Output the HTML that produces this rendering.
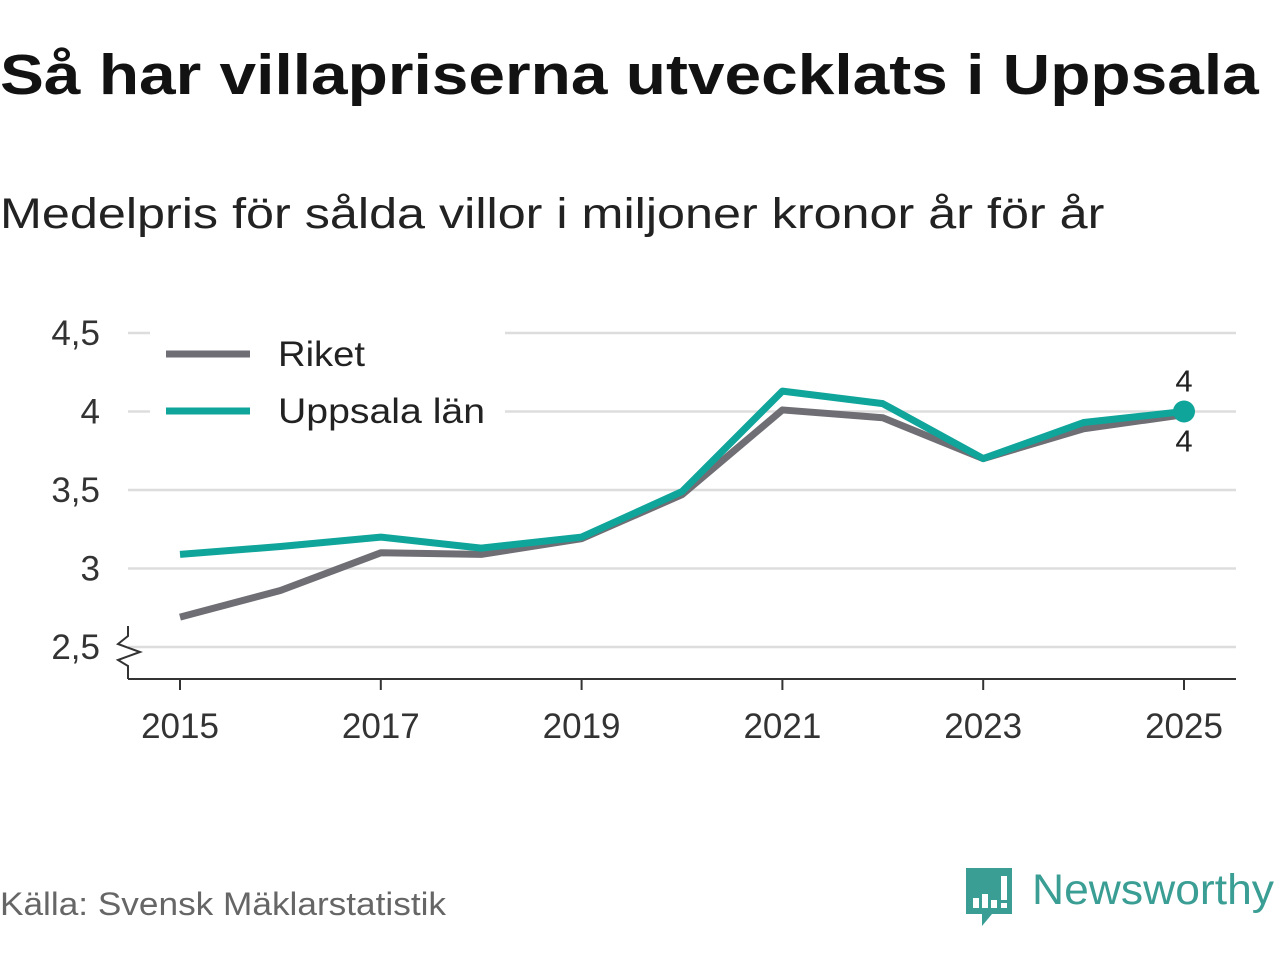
<!DOCTYPE html>
<html><head><meta charset="utf-8"><style>
body{margin:0;width:1280px;height:960px;background:#fff;font-family:"Liberation Sans",sans-serif;overflow:hidden;position:relative}
#title{position:absolute;left:0;top:42px;font-size:57px;font-weight:bold;color:#121212;white-space:nowrap;transform-origin:0 0;transform:scaleX(1.155)}
#sub{position:absolute;left:0;top:190px;font-size:43px;color:#222;white-space:nowrap;transform-origin:0 0;transform:scaleX(1.17)}
#src{position:absolute;left:0;top:886px;font-size:32px;color:#666;transform-origin:0 0;transform:scaleX(1.1);white-space:nowrap}
#logo{position:absolute;left:964px;top:866px}
</style></head><body>
<div id="title">Så har villapriserna utvecklats i Uppsala</div>
<div id="sub">Medelpris för sålda villor i miljoner kronor år för år</div>
<svg id="chart" width="1280" height="960" style="position:absolute;left:0;top:0"></svg>
<div id="src">Källa: Svensk Mäklarstatistik</div>
<div id="logo">
<svg width="316" height="62">
<path d="M2 2h46v46h-20l-10 12v-12h-16z" fill="#3a9e94"/>
<rect x="9" y="32" width="6" height="10" fill="#fff"/><rect x="18" y="28" width="6" height="14" fill="#fff"/><rect x="27" y="34" width="6" height="8" fill="#fff"/><rect x="37" y="10" width="6" height="24" fill="#fff"/><rect x="37" y="37" width="6" height="5" fill="#fff"/>
<text x="68" y="38" font-size="43" fill="#3a9e94" textLength="242" lengthAdjust="spacingAndGlyphs" font-family="Liberation Sans, sans-serif">Newsworthy</text>
</svg></div>
<script>
const years=[2015,2016,2017,2018,2019,2020,2021,2022,2023,2024,2025];
const riket=[2.69,2.86,3.10,3.09,3.19,3.47,4.01,3.96,3.70,3.89,3.98];
const uppsala=[3.09,3.14,3.20,3.13,3.20,3.49,4.13,4.05,3.70,3.93,4.00];
const yTicks=[2.5,3,3.5,4,4.5];
const yTickLabels=["2,5","3","3,5","4","4,5"];
const xTicks=[2015,2017,2019,2021,2023,2025];
const svg=document.getElementById('chart');
const NS="http://www.w3.org/2000/svg";
const x=v=>180+(v-2015)*100.4;
const y=v=>647-(v-2.5)*157;
function mk(t,a){const e=document.createElementNS(NS,t);for(const k in a)e.setAttribute(k,a[k]);svg.appendChild(e);return e;}
yTicks.forEach((t,i)=>{
 const g=mk('line',{x1:128,x2:1236,y1:y(t),y2:y(t),stroke:'#ddd','stroke-width':2.5});
 
 
 const l=mk('text',{x:100,y:y(t)+12,'text-anchor':'end','font-size':35,fill:'#333'});l.textContent=yTickLabels[i];
 
 
});
mk('rect',{x:150,y:318,width:355,height:120,fill:'#fff'});
const ax=mk('line',{x1:128,x2:1236,y1:679,y2:679,stroke:'#333','stroke-width':2});


mk('path',{d:'M128 626V636L118 644L140 652L118 660L128 666V679',fill:'none',stroke:'#333','stroke-width':2});
xTicks.forEach(t=>{
 mk('line',{x1:x(t),x2:x(t),y1:679,y2:690,stroke:'#333','stroke-width':2});
 const l=mk('text',{x:x(t),y:738,'text-anchor':'middle','font-size':35,fill:'#333'});l.textContent=t;
 
 
});
function line(vals,col,name){
 const p=mk('polyline',{points:vals.map((v,i)=>x(years[i])+','+y(v)).join(' '),fill:'none',stroke:col,'stroke-width':7,'stroke-linejoin':'round'});
 
 
}
line(riket,'#6f6e74','riket-line');
line(uppsala,'#0fa59a','uppsala-line');
const n=years.length-1;
const d=mk('circle',{cx:x(years[n]),cy:y(uppsala[n]),r:11,fill:'#0fa59a'});


const a1=mk('text',{x:x(years[n]),y:y(uppsala[n])-20,'text-anchor':'middle','font-size':31,fill:'#222'});a1.textContent=Math.round(uppsala[n]);


const a2=mk('text',{x:x(years[n]),y:y(riket[n])+37,'text-anchor':'middle','font-size':31,fill:'#222'});a2.textContent=Math.round(riket[n]);


[['Riket','#6f6e74',354,87],['Uppsala län','#0fa59a',411,207]].forEach(([t,c,yy,w])=>{
 const l=mk('line',{x1:166,x2:250,y1:yy,y2:yy,stroke:c,'stroke-width':7});
 
 
 const tx=mk('text',{x:278,y:yy+12,'font-size':35,fill:'#222',textLength:w,lengthAdjust:'spacingAndGlyphs'});tx.textContent=t;
 
 
});
</script>
</body></html>
